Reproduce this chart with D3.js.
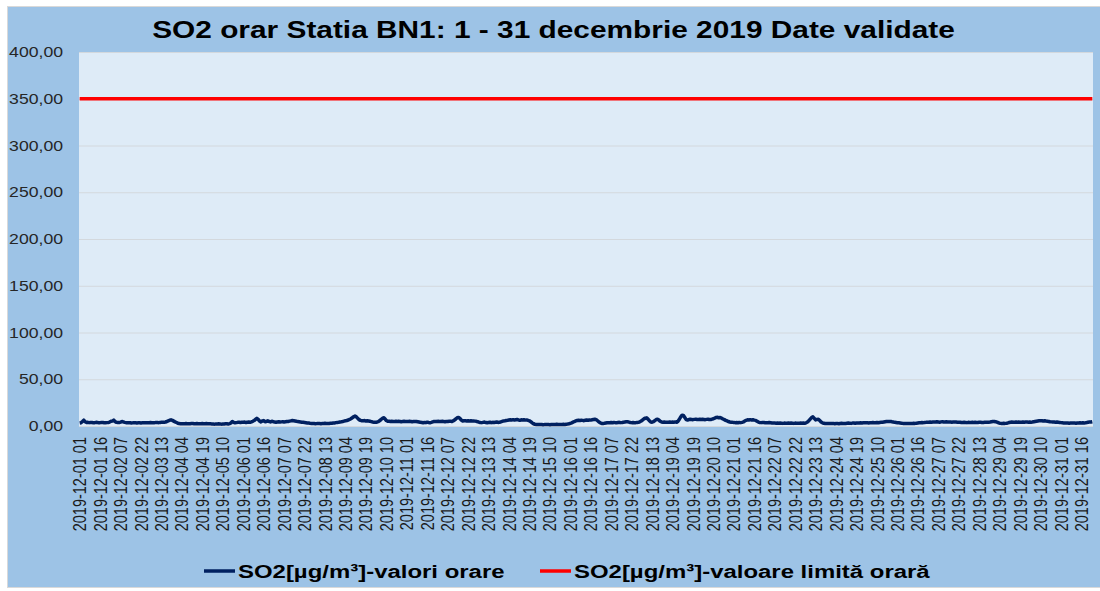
<!DOCTYPE html>
<html>
<head>
<meta charset="utf-8">
<script src="https://cdn.jsdelivr.net/npm/d3@7"></script>
<style>
  body { margin: 0; background: #ffffff; }
  text { font-family: Arial, "Liberation Sans", sans-serif; }
</style>
</head>
<body>
<div id="wrapper"></div>
<script>
// hourly SO2 values, one row per day (hours 01..24)
const so2Days = [
  [3.2,3.5,4.8,6.2,4.5,3.8,3.9,3.6,3.8,3.7,3.5,3.6,3.9,3.7,3.5,3.6,3.8,3.7,3.5,3.4,3.6,3.8,4.2,5.0],
  [5.2,6.3,4.6,3.9,3.7,3.8,4.2,4.8,4.4,3.9,3.6,3.5,3.4,3.5,3.3,3.4,3.6,3.5,3.3,3.4,3.5,3.3,3.4,3.5],
  [3.4,3.5,3.6,3.5,3.7,3.6,3.5,3.6,3.8,3.7,3.6,3.8,3.9,4.0,4.1,4.3,4.8,5.5,6.2,6.6,6.0,5.2,4.4,3.7],
  [3.0,2.6,2.4,2.3,2.5,2.4,2.6,2.5,2.3,2.4,2.6,2.7,2.5,2.4,2.6,2.5,2.3,2.4,2.6,2.5,2.4,2.6,2.5,2.4],
  [2.3,2.2,2.1,2.0,2.2,2.1,2.3,2.2,2.0,2.1,2.2,2.4,2.3,2.1,2.5,3.2,4.8,4.0,3.4,3.6,3.9,4.1,3.8,4.0],
  [3.9,4.2,3.8,4.1,4.3,3.9,4.4,5.0,5.8,7.0,8.2,7.1,5.3,4.4,5.4,5.8,4.6,4.9,5.5,4.8,4.4,5.1,4.7,4.2],
  [4.0,4.3,4.5,4.2,4.4,4.6,4.3,4.5,4.7,4.9,5.2,5.5,5.8,5.6,5.3,5.0,4.7,4.5,4.3,4.1,3.9,3.7,3.5,3.3],
  [3.1,2.9,2.8,2.6,2.7,2.5,2.6,2.8,2.7,2.5,2.6,2.7,2.9,2.8,2.6,2.7,2.9,3.0,3.2,3.3,3.6,3.8,4.0,4.3],
  [4.5,4.8,5.2,5.6,5.9,6.4,7.0,7.8,8.8,9.9,10.6,9.8,8.2,6.8,6.0,5.7,5.5,5.8,5.4,5.6,5.3,5.0,4.7,4.3],
  [4.0,3.9,4.1,4.6,5.5,6.8,8.0,8.9,7.6,5.8,5.0,5.2,4.8,5.0,4.9,4.7,5.1,4.8,5.0,4.9,4.6,4.8,5.0,4.9],
  [4.8,4.7,5.0,4.9,4.6,4.8,4.7,4.9,4.6,4.3,3.9,3.7,3.5,3.8,3.6,4.1,3.7,3.5,3.9,4.4,4.8,4.9,4.7,5.0],
  [4.9,4.7,5.0,4.8,4.6,4.9,4.7,5.0,5.2,4.8,5.4,6.3,7.6,8.8,9.2,8.1,6.3,5.4,5.6,5.5,5.3,5.6,5.4,5.5],
  [5.3,5.4,5.2,5.0,4.6,4.1,3.8,3.6,3.9,4.2,3.7,3.5,3.8,4.1,3.6,3.9,3.7,4.0,4.3,3.8,3.9,4.4,4.9,5.4],
  [5.6,5.9,6.1,6.4,6.7,6.5,6.8,6.3,6.6,6.9,6.5,6.2,6.6,6.4,6.7,6.3,6.5,6.0,5.5,4.6,3.4,2.4,1.9,1.7],
  [1.6,1.5,1.7,1.6,1.4,1.5,1.7,1.6,1.5,1.4,1.6,1.7,1.5,1.6,1.8,1.6,1.5,1.7,1.6,1.8,1.7,1.9,2.1,2.4],
  [2.9,3.4,4.1,4.8,5.4,5.9,6.1,5.8,6.2,6.0,5.7,6.1,6.4,6.2,6.5,6.3,6.6,6.9,7.2,6.8,5.6,4.3,3.4,2.8],
  [2.7,2.9,3.2,3.5,3.6,3.4,3.7,3.5,3.8,3.6,3.5,3.7,3.9,3.6,3.8,4.1,4.3,4.5,4.6,4.2,3.8,3.6,3.7,3.5],
  [3.6,3.8,4.0,4.5,5.3,6.4,7.6,8.4,8.7,7.4,5.6,4.3,4.1,4.6,5.8,6.9,7.2,6.3,5.0,4.2,4.0,4.3,3.9,4.1],
  [4.0,4.3,3.9,4.2,4.1,4.4,4.0,5.1,7.2,9.8,11.5,11.2,9.0,6.8,6.4,6.9,7.2,7.0,6.8,7.1,7.3,6.9,7.0,7.2],
  [6.9,7.2,7.0,6.8,7.1,7.3,7.0,6.9,7.4,7.8,8.5,9.1,9.3,8.8,9.0,8.4,7.5,6.8,6.0,5.4,4.8,4.3,4.1,3.9],
  [3.8,3.6,3.7,3.5,3.8,3.6,3.9,4.4,5.3,6.1,6.6,6.4,6.8,6.5,6.7,6.3,6.0,5.1,4.2,3.8,3.6,3.8,3.7,3.5],
  [3.6,3.4,3.7,3.5,3.3,3.2,3.1,3.0,3.2,2.9,3.1,3.0,2.8,3.1,2.9,3.0,3.2,2.9,3.1,3.0,2.8,3.1,3.0,2.9],
  [3.0,3.1,2.9,3.2,3.0,3.4,4.2,5.6,7.4,9.0,9.8,8.2,6.5,7.0,7.2,5.8,4.3,3.4,2.9,2.7,2.6,2.8,2.6,2.7],
  [2.6,2.8,2.5,2.7,2.6,2.4,2.7,2.9,2.8,2.6,2.7,2.9,3.1,3.0,2.8,3.1,3.2,3.0,3.3,3.1,3.2,3.4,3.3,3.5],
  [3.4,3.6,3.5,3.3,3.6,3.5,3.7,3.6,3.4,3.7,3.5,3.8,3.9,4.0,4.3,4.6,4.9,4.8,4.7,4.9,4.5,4.2,3.9,3.7],
  [3.5,3.4,3.2,3.0,2.8,2.7,2.6,2.8,2.7,2.6,2.8,2.7,2.9,2.8,3.0,3.2,3.4,3.5,3.7,3.6,3.8,3.9,4.1,4.0],
  [4.2,4.1,4.3,4.4,4.2,4.5,4.3,4.1,4.4,4.6,4.3,4.2,4.5,4.4,4.2,4.3,4.1,4.4,4.3,4.2,4.0,3.9,4.1,3.8],
  [3.7,3.9,3.8,3.6,3.9,3.7,3.8,4.0,3.8,3.9,3.7,3.8,4.0,3.9,3.7,3.8,4.0,3.9,4.1,4.0,4.2,4.5,4.8,4.9],
  [4.6,4.1,3.5,3.0,2.8,2.7,2.9,2.8,3.0,3.3,3.7,4.0,4.2,3.9,4.1,4.3,4.0,4.2,3.9,4.1,4.3,4.0,4.2,4.4],
  [4.1,4.3,4.0,4.2,4.5,4.8,5.1,5.4,5.6,5.5,5.7,5.4,5.6,5.3,5.1,4.9,4.6,4.4,4.2,4.3,4.1,4.2,4.0,3.8],
  [3.6,3.4,3.2,3.3,3.1,3.2,3.0,3.2,3.3,3.1,3.2,3.0,3.3,3.2,3.4,3.3,3.5,3.2,3.4,3.7,4.1,4.4,4.2,4.5]
];
const so2Values = so2Days.flat();
const limitValue = 350;

// hourly categories 2019-12-01 01 ... 2020-01-01 00
const hourFormat = d3.timeFormat("%Y-%m-%d %H");
const categories = d3.timeHours(new Date(2019, 11, 1, 1), new Date(2020, 0, 1, 1)).map(hourFormat);
const tickLabels = categories.filter((d, i) => i % 15 === 0);
const yTicks = [0, 50, 100, 150, 200, 250, 300, 350, 400];

const titleText = "SO2 orar Statia BN1: 1 - 31 decembrie 2019 Date validate";
const legendNames = ["SO2[µg/m³]-valori orare", "SO2[µg/m³]-valoare limită orară"];
const seriesColors = ["#002060", "#ff0000"];

const width = 1100, height = 591;
const plot = { left: 79, right: 1093, top: 52, bottom: 426 };
const SX = 1.26; // the picture is stretched horizontally

const svg = d3.select("#wrapper").append("svg")
    .attr("width", width)
    .attr("height", height);

// chart area
svg.append("rect")
    .attr("x", 7.5).attr("y", 6.5)
    .attr("width", width).attr("height", 581)
    .attr("fill", "#9dc3e6")
    .attr("stroke", "#d9d9d9");

// plot area
svg.append("rect")
    .attr("x", plot.left).attr("y", plot.top)
    .attr("width", plot.right - plot.left).attr("height", plot.bottom - plot.top)
    .attr("fill", "#deebf7");

const xScale = d3.scaleBand()
    .domain(categories)
    .range([plot.left, plot.right]);
const xPos = d => xScale(d) + xScale.bandwidth() / 2;

const yScale = d3.scaleLinear()
    .domain([0, 400])
    .range([plot.bottom, plot.top]);

// gridlines
svg.append("g")
    .selectAll("line")
    .data(yTicks)
    .join("line")
    .attr("x1", plot.left).attr("x2", plot.right)
    .attr("y1", d => yScale(d) + 0.5).attr("y2", d => yScale(d) + 0.5)
    .attr("stroke", "#d3d8dd")
    .attr("stroke-width", 1);

// y axis labels
const fmt = d3.formatLocale({ decimal: ",", thousands: ".", grouping: [3], currency: ["", ""] }).format(".2f");
svg.append("g")
    .selectAll("text")
    .data(yTicks)
    .join("text")
    .attr("transform", d => `translate(63,${yScale(d)}) scale(${SX},1)`)
    .attr("dy", "0.36em")
    .attr("text-anchor", "end")
    .attr("font-size", "14px")
    .attr("fill", "#262626")
    .text(d => fmt(d));

// x axis labels
svg.append("g")
    .selectAll("text")
    .data(tickLabels)
    .join("text")
    .attr("transform", d => `translate(${xPos(d)},437) scale(${SX},1) rotate(-90)`)
    .attr("dy", "0.36em")
    .attr("text-anchor", "end")
    .attr("font-size", "14.5px")
    .attr("fill", "#1a1a1a")
    .text(d => d);

// limit line
const limitLine = d3.line()
    .x(d => xPos(d))
    .y(() => yScale(limitValue));

svg.append("path")
    .datum(categories)
    .attr("d", limitLine)
    .attr("fill", "none")
    .attr("stroke", seriesColors[1])
    .attr("stroke-width", 3.5);

// hourly values
const valueLine = d3.line()
    .x((d, i) => xPos(categories[i]))
    .y(d => yScale(d));

svg.append("path")
    .datum(so2Values)
    .attr("d", valueLine)
    .attr("fill", "none")
    .attr("stroke", seriesColors[0])
    .attr("stroke-width", 3.5)
    .attr("stroke-linejoin", "round");

// title
svg.append("text")
    .attr("transform", `translate(553.5,38) scale(${SX},1)`)
    .attr("text-anchor", "middle")
    .attr("font-size", "23.7px")
    .attr("font-weight", "bold")
    .attr("fill", "#000")
    .text(titleText);

// legend
const legendX = [204, 540];
const legend = svg.append("g");
legendNames.forEach((name, i) => {
    legend.append("line")
        .attr("x1", legendX[i]).attr("x2", legendX[i] + 31)
        .attr("y1", 571).attr("y2", 571)
        .attr("stroke", seriesColors[i])
        .attr("stroke-width", 3.5);
    legend.append("text")
        .attr("transform", `translate(${legendX[i] + 34},578) scale(${SX},1)`)
        .attr("font-size", "19px")
        .attr("font-weight", "bold")
        .attr("fill", "#000")
        .text(name);
});
</script>
</body>
</html>
